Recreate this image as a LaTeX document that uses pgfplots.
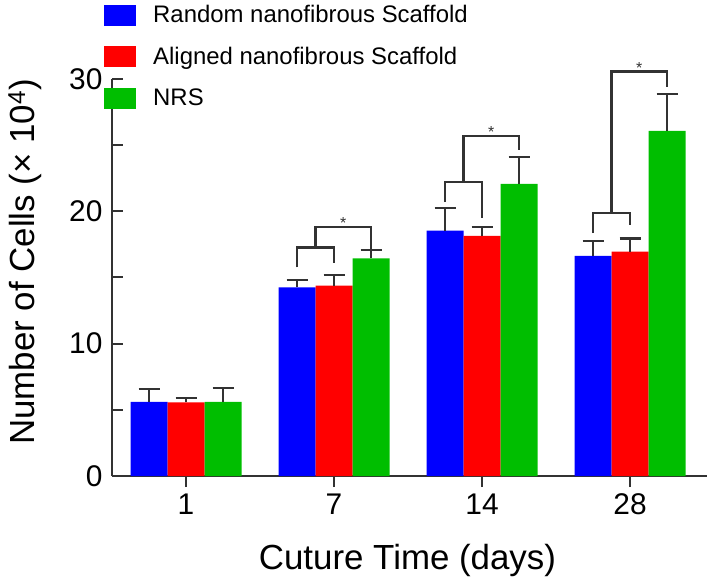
\documentclass[border=0pt]{standalone}
\usepackage{fontspec}
\setmainfont{Liberation Sans}
\usepackage{pgfplots}
\pgfplotsset{compat=1.18}
\definecolor{cblue}{RGB}{0,0,255}
\definecolor{cred}{RGB}{255,0,0}
\definecolor{cgreen}{RGB}{0,190,0}
\definecolor{axgray}{RGB}{50,50,50}
\begin{document}
\begin{tikzpicture}
\useasboundingbox (-112bp,-104bp) rectangle (597bp,476bp);
\begin{axis}[
  at={(0,0)}, anchor=south west,
  scale only axis, width=595bp, height=397bp,
  xmin=-0.5, xmax=3.52, ymin=0, ymax=30,
  clip=false,
  axis x line=bottom, axis y line=left,
  axis line style={-, line width=2bp, axgray},
  xtick={0,1,2,3}, xticklabels={1,7,14,28},
  ytick={0,10,20,30}, minor ytick={5,15,25},
  tick align=outside, major tick length=11bp, minor tick length=11bp,
  tick style={line width=2bp, axgray},
  major tick style={line width=2bp, axgray},
  minor tick style={line width=2bp, axgray},
  every major y tick/.append style={xshift=11bp},
  every minor y tick/.append style={xshift=11bp},
  /pgf/number format/assume math mode=true,
  ticklabel style={font=\fontsize{30}{33}\selectfont},
  yticklabel style={xshift=5bp},
  xticklabel style={yshift=-3bp},
  xlabel={Cuture Time (days)},
  ylabel={Number of Cells (× 10\textsuperscript{4})},
  label style={font=\fontsize{35}{40}\selectfont},
  xlabel style={at={(rel axis cs:0.4966,-0.236)}, anchor=base},
  ylabel style={at={(rel axis cs:-0.131,0.539)}, anchor=base},
  legend style={at={(rel axis cs:-0.0134,1.190)}, anchor=north west,
    draw=none, fill=none, inner sep=0pt,
    font=\fontsize{24}{29}\selectfont,
    row sep=18.5bp,
    nodes={inner sep=0pt, text height=19bp, text depth=4bp},
    /tikz/every odd column/.append style={column sep=17bp}},
  legend cell align=left,
  legend image code/.code={\fill[#1] (0bp,-10.5bp) rectangle (32bp,10.5bp);},
]
\addplot[ybar, bar width=37bp, bar shift=0bp, fill=cblue, draw=none,
  error bars/.cd, y dir=plus, y explicit,
  error bar style={draw=axgray, line width=2.2bp},
  error mark options={rotate=90, mark size=10.5bp, line width=2.2bp, draw=axgray}]
  coordinates {(-0.25,5.6) +- (0,0.95) (0.75,14.26) +- (0,0.55) (1.75,18.54) +- (0,1.69) (2.75,16.63) +- (0,1.13)};
\addlegendentry{Random nanofibrous Scaffold}
\addplot[ybar, bar width=37bp, bar shift=0bp, fill=cred, draw=none,
  error bars/.cd, y dir=plus, y explicit,
  error bar style={draw=axgray, line width=2.2bp},
  error mark options={rotate=90, mark size=10.5bp, line width=2.2bp, draw=axgray}]
  coordinates {(0,5.57) +- (0,0.35) (1,14.39) +- (0,0.8) (2,18.14) +- (0,0.7) (3,16.95) +- (0,0.99)};
\addlegendentry{Aligned nanofibrous Scaffold}
\addplot[ybar, bar width=37bp, bar shift=0bp, fill=cgreen, draw=none,
  error bars/.cd, y dir=plus, y explicit,
  error bar style={draw=axgray, line width=2.2bp},
  error mark options={rotate=90, mark size=10.5bp, line width=2.2bp, draw=axgray}]
  coordinates {(0.25,5.6) +- (0,1.07) (1.25,16.45) +- (0,0.61) (2.25,22.07) +- (0,2.02) (3.25,26.08) +- (0,2.77)};
\addlegendentry{NRS}
% significance brackets
\addplot[sharp plot, no marks, axgray, line width=2.2bp, forget plot]
  coordinates {(0.75,15.77) (0.75,17.26) (1.0,17.26) (1.0,16.1)};
\addplot[sharp plot, no marks, axgray, line width=2.2bp, forget plot]
  coordinates {(0.875,17.26) (0.875,18.84) (1.25,18.84) (1.25,17.16)};
\addplot[sharp plot, no marks, axgray, line width=2.2bp, forget plot]
  coordinates {(1.75,20.7) (1.75,22.2) (2.0,22.2) (2.0,19.48)};
\addplot[sharp plot, no marks, axgray, line width=2.2bp, forget plot]
  coordinates {(1.875,22.2) (1.875,25.7) (2.25,25.7) (2.25,24.64)};
\addplot[sharp plot, no marks, axgray, line width=2.2bp, forget plot]
  coordinates {(2.75,18.35) (2.75,19.86) (3.0,19.86) (3.0,18.97)};
\addplot[sharp plot, no marks, axgray, line width=2.2bp, forget plot]
  coordinates {(2.875,19.86) (2.875,30.56) (3.25,30.56) (3.25,29.43)};
\addplot[draw=none, no marks, forget plot, nodes near coords={*},
  nodes near coords style={font=\fontsize{16}{16}\selectfont, anchor=south, inner sep=0pt, yshift=-2bp, text=axgray}]
  coordinates {(1.0625,18.84) (2.0625,25.7) (3.0625,30.56)};
\end{axis}
\end{tikzpicture}
\end{document}
